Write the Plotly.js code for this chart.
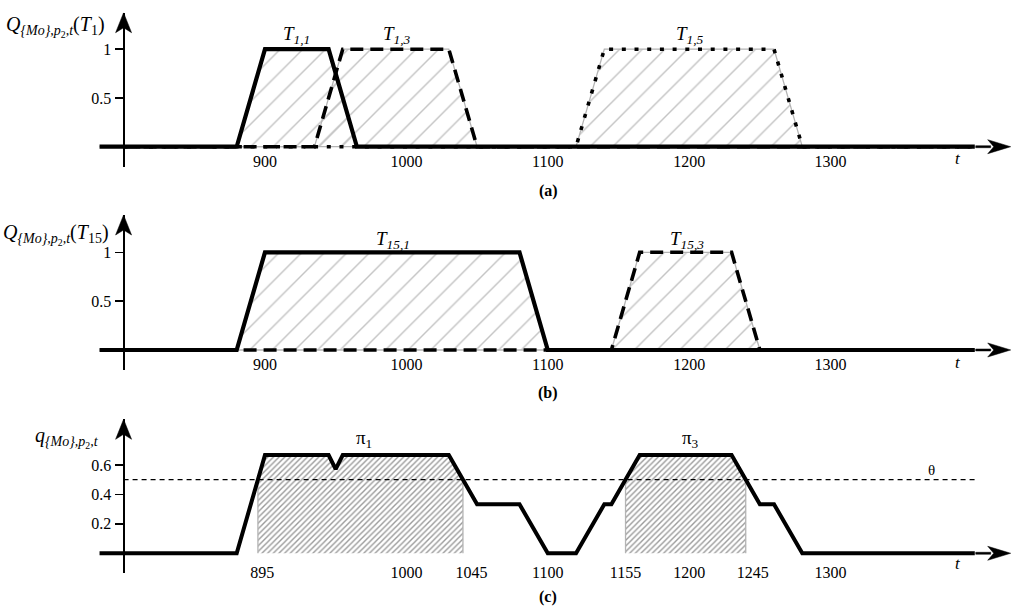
<!DOCTYPE html>
<html><head><meta charset="utf-8">
<script src="https://cdn.plot.ly/plotly-3.0.1.min.js"></script>
<style>html,body{margin:0;padding:0;background:#fff}#chart{width:1024px;height:616px}</style>
</head><body><div id="chart"></div>
<script>
// ---------------- data ----------------
const tickHundreds = [900, 1000, 1100, 1200, 1300];
const tickLabelsAB = ['900', '1000', '1100', '1200', '1300'];
const tickValsC = [898, 1000, 1046, 1100, 1155, 1200, 1245, 1300];
const tickLabelsC = ['895', '1000', '1045', '1100', '1155', '1200', '1245', '1300'];
const yTicksAB = [0.5, 1];
const yTickLabelsAB = ['0.5', '1'];
const yTicksC = [0.2, 0.4, 0.6];
const yTickLabelsC = ['0.2', '0.4', '0.6'];

// panel (a): Q_{Mo},p2,t(T1)
const a_T11_t = [783, 880, 900, 945, 965, 1402];
const a_T11_v = [0, 0, 1, 1, 0, 0];
const a_T13_t = [800, 935, 955, 1030, 1050, 1402];
const a_T13_v = [0, 0, 1, 1, 0, 0];
const a_T15_t = [800, 1120, 1140, 1260, 1280, 1402];
const a_T15_v = [0, 0, 1, 1, 0, 0];

// panel (b): Q_{Mo},p2,t(T15)
const b_T151_t = [783, 880, 900, 1080, 1100, 1402];
const b_T151_v = [0, 0, 1, 1, 0, 0];
const b_T153_t = [800, 1145, 1165, 1230, 1250, 1402];
const b_T153_v = [0, 0, 1, 1, 0, 0];

// panel (c): q_{Mo},p2,t
const c_q_t = [783, 880, 900, 945, 950, 955, 1030, 1050, 1080, 1100, 1120, 1140, 1145, 1165, 1230, 1250, 1260, 1280, 1402];
const c_q_v = [0, 0, 0.667, 0.667, 0.571, 0.667, 0.667, 0.333, 0.333, 0, 0, 0.333, 0.333, 0.667, 0.667, 0.333, 0.333, 0, 0];
const c_pi1_t = [895, 895, 900, 945, 950, 955, 1030, 1040, 1040];
const c_pi1_v = [0, 0.5, 0.667, 0.667, 0.571, 0.667, 0.667, 0.5, 0];
const c_pi3_t = [1155, 1155, 1165, 1230, 1240, 1240];
const c_pi3_v = [0, 0.5, 0.667, 0.667, 0.5, 0];
const c_theta_t = [800, 1403];
const c_theta_v = [0.5, 0.5];

// ---------------- styling ----------------
const W = 1024, H = 616;
const FONT = '"Liberation Serif", "Times New Roman", serif';
const XR = [712.6, 1436.8];
const px = v => v / W;
const py = v => 1 - v / H;
const GRAY = '#b4b4b4';

function hatch(x, y, xa, ya, fill, size, sol, fg) {
  return {x, y, xaxis: xa, yaxis: ya, type: 'scatter', mode: 'lines', fill,
    line: {color: GRAY, width: 1.3}, fillcolor: 'rgba(0,0,0,0)',
    fillpattern: {shape: '/', size, solidity: sol, fgcolor: fg, bgcolor: 'rgba(0,0,0,0)'},
    hoverinfo: 'skip', showlegend: false};
}
function ln(x, y, xa, ya, width, dash) {
  return {x, y, xaxis: xa, yaxis: ya, type: 'scatter', mode: 'lines',
    line: {color: '#000', width, dash: dash || 'solid'}, hoverinfo: 'skip', showlegend: false};
}
const DASH = '13px,7px';
const DOT = '4px,8.7px';

const traces = [
  // (a)
  hatch(a_T11_t, a_T11_v, 'x', 'y', 'tozeroy', 16, 0.09, '#c4c4c4'),
  hatch(a_T13_t, a_T13_v, 'x', 'y', 'tozeroy', 16, 0.09, '#c4c4c4'),
  hatch(a_T15_t, a_T15_v, 'x', 'y', 'tozeroy', 16, 0.09, '#c4c4c4'),
  ln(a_T15_t, a_T15_v, 'x', 'y', 3.6, DOT),
  ln(a_T13_t, a_T13_v, 'x', 'y', 3.6, DASH),
  ln(a_T11_t, a_T11_v, 'x', 'y', 4.2),
  // (b)
  hatch(b_T151_t, b_T151_v, 'x2', 'y2', 'tozeroy', 16, 0.09, '#c4c4c4'),
  hatch(b_T153_t, b_T153_v, 'x2', 'y2', 'tozeroy', 16, 0.09, '#c4c4c4'),
  ln(b_T153_t, b_T153_v, 'x2', 'y2', 3.6, DASH),
  ln(b_T151_t, b_T151_v, 'x2', 'y2', 4.2),
  // (c)
  hatch(c_pi1_t, c_pi1_v, 'x3', 'y3', 'toself', 4, 0.35, '#9a9a9a'),
  hatch(c_pi3_t, c_pi3_v, 'x3', 'y3', 'toself', 4, 0.35, '#9a9a9a'),
  ln(c_theta_t, c_theta_v, 'x3', 'y3', 1.3, '5px,4px'),
  ln(c_q_t, c_q_v, 'x3', 'y3', 4)
];

const tickFont = {family: FONT, size: 16, color: '#000'};
function xBase(pos, vals, text, standoff) {
  return {range: XR, domain: [0, 1], anchor: 'free', position: pos, showline: false, showgrid: false,
    zeroline: false, ticks: '', tickmode: 'array', tickvals: vals, ticktext: text,
    tickfont: tickFont, ticklabelstandoff: standoff, fixedrange: true};
}
function xTicks(over, pos, side) {
  return {range: XR, overlaying: over, anchor: 'free', position: pos, side, showline: false,
    showgrid: false, zeroline: false, ticks: 'outside', ticklen: 5, tickwidth: 1.4, tickcolor: '#000',
    tickmode: 'array', tickvals: tickHundreds, showticklabels: false, fixedrange: true};
}
function yBase(range, domain, vals, text) {
  return {range, domain, anchor: 'free', position: px(123.5), showline: true, linewidth: 2.6,
    linecolor: '#000', showgrid: false, zeroline: false, ticks: 'outside', ticklen: 8, tickwidth: 1.4,
    tickcolor: '#000', tickmode: 'array', tickvals: vals, ticktext: text, tickfont: tickFont, fixedrange: true};
}
function yTicks(over, range, vals) {
  return {range, overlaying: over, anchor: 'free', position: px(123.5), side: 'right', showline: false,
    showgrid: false, zeroline: false, ticks: 'outside', ticklen: 8, tickwidth: 1.4, tickcolor: '#000',
    tickmode: 'array', tickvals: vals, showticklabels: false, fixedrange: true};
}

const yRA = [-0.205, 1.374], yRB = [-0.205, 1.382], yRC = [-0.134, 0.910];
const posA = py(146.7), posB = py(350), posC = py(553.3);

const layout = {
  width: W, height: H, margin: {l: 0, r: 0, t: 0, b: 0},
  paper_bgcolor: '#fff', plot_bgcolor: 'rgba(0,0,0,0)', showlegend: false,
  font: {family: FONT, color: '#000'},
  xaxis: xBase(posA, tickHundreds, tickLabelsAB, 3),
  xaxis2: xBase(posB, tickHundreds, tickLabelsAB, 3),
  xaxis3: xBase(posC, tickValsC, tickLabelsC, 8),
  xaxis4: xTicks('x', posA, 'top'),
  xaxis5: xTicks('x', posA, 'bottom'),
  xaxis6: xTicks('x2', posB, 'top'),
  xaxis7: xTicks('x2', posB, 'bottom'),
  xaxis8: xTicks('x3', posC, 'top'),
  xaxis9: xTicks('x3', posC, 'bottom'),
  yaxis: yBase(yRA, [py(166.7), py(12.7)], yTicksAB, yTickLabelsAB),
  yaxis2: yBase(yRB, [py(370), py(215)], yTicksAB, yTickLabelsAB),
  yaxis3: yBase(yRC, [py(573), py(419.3)], yTicksC, yTickLabelsC),
  yaxis4: yTicks('y', yRA, yTicksAB),
  yaxis5: yTicks('y2', yRB, yTicksAB),
  yaxis6: yTicks('y3', yRC, yTicksC),
  shapes: [],
  annotations: []
};

// arrowheads (pixel-sized, anchored at axis ends)
const xHead = 'M0,0 L-23,7 L-17,0 L-23,-7 Z M-35,-1 L-20,-1 L-20,1 L-35,1 Z';
const yHead = 'M0,0 L-8,-20 L0,-15 L8,-20 Z';
[['x', 'y', yRA], ['x2', 'y2', yRB], ['x3', 'y3', yRC]].forEach(([xa, ya, yr]) => {
  layout.shapes.push({type: 'path', xref: xa, yref: ya, xsizemode: 'pixel', ysizemode: 'pixel',
    xanchor: 1427.4, yanchor: 0, path: xHead, fillcolor: '#000', line: {color: '#000', width: 0.5}});
  layout.shapes.push({type: 'path', xref: xa, yref: ya, xsizemode: 'pixel', ysizemode: 'pixel',
    xanchor: 800, yanchor: yr[1], path: yHead, fillcolor: '#000', line: {color: '#000', width: 0.5}});
});

function ann(text, x, y, size, opts) {
  layout.annotations.push(Object.assign({text, xref: 'paper', yref: 'paper', x: px(x), y: py(y),
    xanchor: 'center', yanchor: 'middle', showarrow: false,
    font: {family: FONT, size, color: '#000'}}, opts || {}));
}
// axis titles
ann('<i>Q</i><sub><i>{Mo},p</i><sub>2</sub><i>,t</i></sub>(<i>T</i><sub>1</sub>)', 107, 27, 20, {xanchor: 'right'});
ann('<i>Q</i><sub><i>{Mo},p</i><sub>2</sub><i>,t</i></sub>(<i>T</i><sub>15</sub>)', 111, 234, 20, {xanchor: 'right'});
ann('<i>q</i><sub><i>{Mo},p</i><sub>2</sub><i>,t</i></sub>', 101, 437, 20, {xanchor: 'right'});
// curve labels
ann('<i>T</i><sub><i>1,1</i></sub>', 296, 35, 19);
ann('<i>T</i><sub><i>1,3</i></sub>', 397, 35, 19);
ann('<i>T</i><sub><i>1,5</i></sub>', 690, 35, 19);
ann('<i>T</i><sub><i>15,1</i></sub>', 393, 240, 19);
ann('<i>T</i><sub><i>15,3</i></sub>', 687, 240, 19);
ann('π<sub>1</sub>', 364, 439, 19);
ann('π<sub>3</sub>', 690, 439, 19);
ann('θ', 931, 470, 15);
// t labels
ann('<i>t</i>', 958, 158, 17);
ann('<i>t</i>', 958, 362, 17);
ann('<i>t</i>', 958, 563, 17);
// panel labels
ann('<b>(a)</b>', 548, 191, 16);
ann('<b>(b)</b>', 548, 393, 16);
ann('<b>(c)</b>', 548, 597, 16);

Plotly.newPlot('chart', traces, layout, {staticPlot: true, displayModeBar: false});
</script>
</body></html>
